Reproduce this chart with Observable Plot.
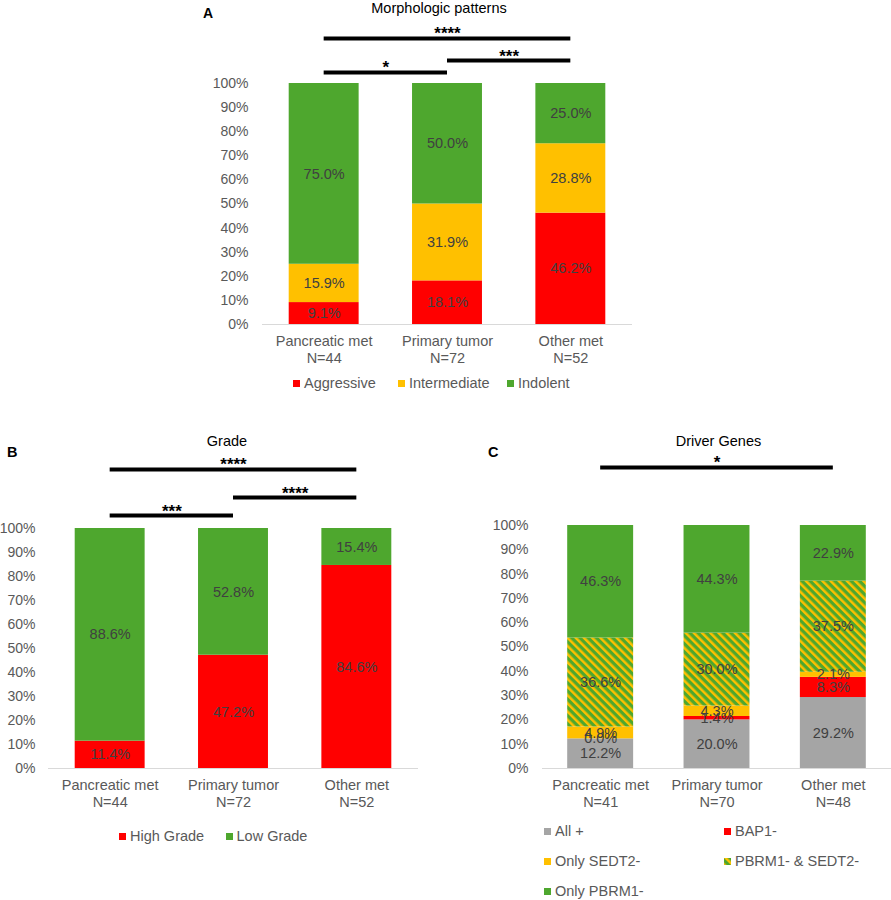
<!DOCTYPE html>
<html>
<head>
<meta charset="utf-8">
<script src="https://cdn.jsdelivr.net/npm/d3@7"></script>
<script src="https://cdn.jsdelivr.net/npm/@observablehq/plot@0.6"></script>
<style>
  body { margin: 0; background: #fff; }
  #fig { position: relative; width: 891px; height: 900px; overflow: hidden;
         font-family: "Liberation Sans", Arial, sans-serif; color: #595959; }
  .abs { position: absolute; white-space: nowrap; line-height: 1; }
  .sw { position: absolute; }
</style>
</head>
<body>
<div id="fig"></div>
<script>
// ---- Data -------------------------------------------------------------
const groups = ["Pancreatic met", "Primary tumor", "Other met"];
const yTicks = [0, 10, 20, 30, 40, 50, 60, 70, 80, 90, 100];

// A. Morphologic patterns (% of cases)
const morphCounts = [44, 72, 52];
const morphSeries = ["Aggressive", "Intermediate", "Indolent"];
const morphAggressive = [9.1, 18.1, 46.2];
const morphIntermediate = [15.9, 31.9, 28.8];
const morphIndolent = [75.0, 50.0, 25.0];
const morphTests = [
  {from: 0, to: 1, stars: "*"},
  {from: 1, to: 2, stars: "***"},
  {from: 0, to: 2, stars: "****"}
];

// B. Grade (% of cases)
const gradeCounts = [44, 72, 52];
const gradeSeries = ["High Grade", "Low Grade"];
const gradeHigh = [11.4, 47.2, 84.6];
const gradeLow = [88.6, 52.8, 15.4];
const gradeTests = [
  {from: 0, to: 1, stars: "***"},
  {from: 1, to: 2, stars: "****"},
  {from: 0, to: 2, stars: "****"}
];

// C. Driver genes (% of cases)
const geneCounts = [41, 70, 48];
const geneSeries = ["All +", "BAP1-", "Only SEDT2-", "PBRM1- & SEDT2-", "Only PBRM1-"];
const geneAllPositive = [12.2, 20.0, 29.2];
const geneBAP1 = [0.0, 1.4, 8.3];
const geneOnlySEDT2 = [4.9, 4.3, 2.1];
const genePBRM1SEDT2 = [36.6, 30.0, 37.5];
const geneOnlyPBRM1 = [46.3, 44.3, 22.9];
const geneTests = [
  {from: 0, to: 2, stars: "*"}
];

// ---- Styling ----------------------------------------------------------
const RED = "#ff0000", YELLOW = "#ffc000", GREEN = "#4ea72e", GRAY = "#a5a5a5";
const HATCH = "url(#hatch)";
const FONT = "'Liberation Sans', Arial, sans-serif";

const fig = document.getElementById("fig");

// Shared striped fill (yellow on green) for the combined PBRM1-/SEDT2- loss
fig.insertAdjacentHTML("beforeend", `
<svg width="0" height="0" style="position:absolute">
  <defs>
    <pattern id="hatch" patternUnits="userSpaceOnUse" width="5.8" height="5.8" patternTransform="rotate(-45)">
      <rect width="5.8" height="5.8" fill="${GREEN}"/>
      <rect width="2.5" height="5.8" fill="${YELLOW}"/>
    </pattern>
  </defs>
</svg>`);

function addText(txt, x, baseline, {size = 14.5, weight = "normal", anchor = "start", color = "#595959"} = {}) {
  const el = document.createElement("div");
  el.className = "abs";
  el.textContent = txt;
  el.style.fontSize = size + "px";
  el.style.fontWeight = weight;
  el.style.color = color;
  el.style.left = x + "px";
  el.style.top = (baseline - 0.8465 * size) + "px";
  if (anchor === "middle") el.style.transform = "translateX(-50%)";
  fig.appendChild(el);
}

function addSwatch(fill, x, cy, label) {
  fig.insertAdjacentHTML("beforeend",
    `<svg class="sw" width="7" height="7" style="left:${x}px;top:${cy - 3.5}px"><rect width="7" height="7" fill="${fill}"/></svg>`);
  addText(label, x + 11, cy + 5);
}

function panel({series, columns, counts, palette, tests, lifts, box, inset, tickPadding}) {
  const rows = groups.flatMap((g, i) =>
    series.map((s, k) => ({pos: i, series: s, value: columns[k][i]})));
  const svg = Plot.plot({
    width: box.width,
    height: box.height,
    marginLeft: box.marginLeft,
    marginRight: box.marginRight,
    marginTop: box.marginTop,
    marginBottom: box.marginBottom,
    style: {fontFamily: FONT, fontSize: "14px", color: "#595959", background: "none",
            maxWidth: "none", overflow: "visible"},
    x: {domain: [0, groups.length]},
    y: {domain: [0, 100]},
    color: {domain: series, range: palette},
    marks: [
      Plot.rectY(rows, {
        x1: (d) => d.pos, x2: (d) => d.pos + 1, y: "value", fill: "series",
        insetLeft: inset, insetRight: inset
      }),
      Plot.ruleY([0], {stroke: "#d9d9d9", strokeWidth: 1.2}),
      Plot.text(rows, Plot.stackY({
        x: (d) => d.pos + 0.5, y: "value",
        text: (d) => d.value.toFixed(1) + "%",
        fill: "#404040", fontSize: 14.5
      })),
      Plot.axisY(yTicks, {
        tickSize: 0, tickPadding, tickFormat: (d) => d + "%", fontSize: 14, label: null
      }),
      Plot.axisX(groups.map((g, i) => i + 0.5), {
        tickSize: 0, tickPadding: 10, fontSize: 14.5, lineHeight: 1.15, label: null,
        tickFormat: (d) => `${groups[Math.floor(d)]}\nN=${counts[Math.floor(d)]}`
      }),
      Plot.ruleY(tests, {
        x1: (d) => d.from + 0.5, x2: (d) => d.to + 0.5, y: (d, i) => lifts[i],
        stroke: "black", strokeWidth: 4
      }),
      Plot.text(tests, {
        x: (d) => (d.from + d.to) / 2 + 0.5, y: (d, i) => lifts[i], text: "stars",
        lineAnchor: "bottom", dy: 1, fontSize: 17, fontWeight: "bold", fill: "black"
      })
    ]
  });
  svg.style.position = "absolute";
  svg.style.left = box.left + "px";
  svg.style.top = box.top + "px";
  fig.appendChild(svg);
}

// ---- Panel A: Morphologic patterns ------------------------------------
addText("A", 203, 18, {size: 14, weight: "bold", color: "#000"});
addText("Morphologic patterns", 439, 13, {anchor: "middle", color: "#000"});
panel({
  series: morphSeries,
  columns: [morphAggressive, morphIntermediate, morphIndolent],
  counts: morphCounts,
  palette: [RED, YELLOW, GREEN],
  tests: morphTests,
  lifts: [104.6, 109.5, 118.7],
  box: {left: 180, top: 0, width: 470, height: 372, marginLeft: 82, marginRight: 18, marginTop: 83, marginBottom: 48},
  inset: 26.7,
  tickPadding: 14
});
addSwatch(RED, 293, 383.5, "Aggressive");
addSwatch(YELLOW, 398, 383.5, "Intermediate");
addSwatch(GREEN, 507, 383.5, "Indolent");

// ---- Panel B: Grade ---------------------------------------------------
addText("B", 7, 457, {size: 14.5, weight: "bold", color: "#000"});
addText("Grade", 227, 446, {anchor: "middle", color: "#000"});
panel({
  series: gradeSeries,
  columns: [gradeHigh, gradeLow],
  counts: gradeCounts,
  palette: [RED, GREEN],
  tests: gradeTests,
  lifts: [105.4, 112.9, 124.6],
  box: {left: 0, top: 430, width: 440, height: 386, marginLeft: 48, marginRight: 22, marginTop: 98, marginBottom: 48},
  inset: 26.7,
  tickPadding: 13
});
addSwatch(RED, 119, 836, "High Grade");
addSwatch(GREEN, 225.5, 836, "Low Grade");

// ---- Panel C: Driver genes --------------------------------------------
addText("C", 488, 457, {size: 14.5, weight: "bold", color: "#000"});
addText("Driver Genes", 718.5, 446, {anchor: "middle", color: "#000"});
panel({
  series: geneSeries,
  columns: [geneAllPositive, geneBAP1, geneOnlySEDT2, genePBRM1SEDT2, geneOnlyPBRM1],
  counts: geneCounts,
  palette: [GRAY, RED, YELLOW, HATCH, GREEN],
  tests: geneTests,
  lifts: [123.9],
  box: {left: 440, top: 430, width: 451, height: 386, marginLeft: 102, marginRight: 0, marginTop: 95, marginBottom: 48},
  inset: 25.2,
  tickPadding: 14
});
addSwatch(GRAY, 544, 831.5, "All +");
addSwatch(RED, 724, 831.5, "BAP1-");
addSwatch(YELLOW, 544, 861.5, "Only SEDT2-");
addSwatch(HATCH, 724, 861.5, "PBRM1- & SEDT2-");
addSwatch(GREEN, 544, 891.5, "Only PBRM1-");
</script>
</body>
</html>
